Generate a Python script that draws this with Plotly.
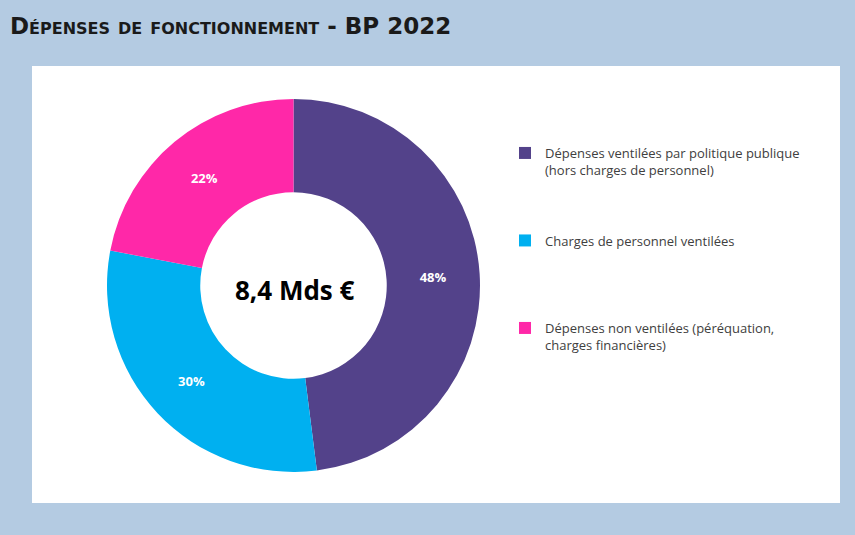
import plotly.graph_objects as go

W, H = 855, 535

labels = [
    "Dépenses ventilées par politique publique<br>(hors charges de personnel)",
    "Charges de personnel ventilées",
    "Dépenses non ventilées (péréquation,<br>charges financières)",
]
shares = [48, 30, 22]
colors = ["#53428a", "#00b0f0", "#ff28a8"]
total_label = "8,4 Mds €"
title = "Dépenses de fonctionnement - BP 2022"

# pad legend entries so they spread out like the original
pad = ["<br> <br> <br> ", "<br> <br> <br> <br> ", ""]
legend_labels = [l + p for l, p in zip(labels, pad)]


def px(x):
    return x / W


def py(y):
    return 1 - y / H


fig = go.Figure()

fig.add_trace(go.Pie(
    labels=legend_labels,
    values=shares,
    hole=0.5,
    sort=False,
    direction="clockwise",
    rotation=0,
    marker=dict(colors=colors, line=dict(width=0)),
    textinfo="percent",
    texttemplate="%{percent:.0%}",
    textposition="inside",
    insidetextorientation="horizontal",
    textfont=dict(family="Open Sans", size=13, color="white", weight="bold"),
    domain=dict(x=[px(106), px(481)], y=[py(472), py(99)]),
    hoverinfo="label+percent",
))

fig.add_shape(
    type="rect", xref="paper", yref="paper",
    x0=px(32), x1=px(840), y0=py(503), y1=py(66),
    fillcolor="white", line=dict(width=0), layer="below",
)

fig.add_annotation(
    text=total_label, x=px(295), y=py(290), xref="paper", yref="paper",
    showarrow=False,
    font=dict(family="Open Sans", size=26, color="black", weight="bold"),
)

fig.add_annotation(
    text=title, x=px(8), y=py(26), xref="paper", yref="paper",
    xanchor="left", yanchor="middle", showarrow=False,
    font=dict(family="DejaVu Sans", size=23, color="#1a1a1a",
              weight="bold", variant="small-caps"),
)

fig.update_layout(
    width=W, height=H,
    margin=dict(l=0, r=0, t=0, b=0),
    paper_bgcolor="#b4cbe2",
    plot_bgcolor="#b4cbe2",
    showlegend=True,
    legend=dict(
        x=px(505), y=py(138), xanchor="left", yanchor="top",
        valign="top",
        bgcolor="rgba(0,0,0,0)",
        font=dict(family="Open Sans", size=13, color="#404040"),
        itemwidth=30,
    ),
)

fig.write_html("out.html", config={"displayModeBar": False},
               post_script="document.body.style.margin='0';")
